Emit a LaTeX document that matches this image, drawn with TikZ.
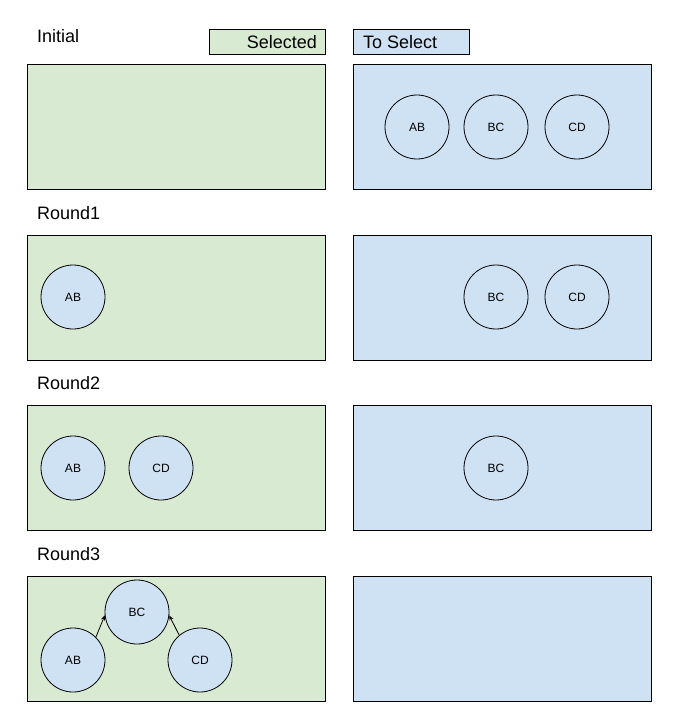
\documentclass[tikz,border=0pt]{standalone}
\usepackage{fontspec}
\setmainfont{Liberation Sans}
\usetikzlibrary{arrows.meta}
\definecolor{selgreen}{HTML}{D9EAD3}
\definecolor{tsblue}{HTML}{CFE2F3}
\begin{document}
\begin{tikzpicture}[x=1pt,y=-1pt,
  panel/.style={draw=black, line width=0.8pt, minimum width=298pt, minimum height=125pt, inner sep=0pt},
  selpanel/.style={panel, fill=selgreen},
  topanel/.style={panel, fill=tsblue},
  ball/.style={circle, draw=black, line width=0.8pt, fill=tsblue, minimum size=64pt, inner sep=0pt, font=\fontsize{12}{14}\selectfont},
  title/.style={anchor=west, inner sep=0pt, font=\fontsize{18}{21}\selectfont},
  legend/.style={draw=black, line width=0.8pt, minimum width=116pt, minimum height=25pt, inner sep=0pt},
  link/.style={-{Stealth[length=5pt,width=4pt]}, line width=0.8pt}
]
\useasboundingbox (0,0) rectangle (681,714);

% legend
\node[legend, fill=selgreen] (legS) at (267,41.5) {};
\node[anchor=east, inner sep=0pt, font=\fontsize{18}{21}\selectfont] (legSt) at (317,42) {Selected};
\node[legend, fill=tsblue] (legT) at (411.5,41.5) {};
\node[anchor=west, inner sep=0pt, font=\fontsize{18}{21}\selectfont] (legTt) at (363,42) {To Select};

% titles
\node[title] (t0) at (37,36) {Initial};
\node[title] (t1) at (37,213) {Round1};
\node[title] (t2) at (37,383) {Round2};
\node[title] (t3) at (37,554) {Round3};

% panels
\node[selpanel] (s0) at (176,126.5) {};
\node[topanel]  (r0) at (502.5,126.5) {};
\node[selpanel] (s1) at (176,297.5) {};
\node[topanel]  (r1) at (502.5,297.5) {};
\node[selpanel] (s2) at (176,467.5) {};
\node[topanel]  (r2) at (502.5,467.5) {};
\node[selpanel] (s3) at (176,638.5) {};
\node[topanel]  (r3) at (502.5,638.5) {};

% Initial
\node[ball] (ab0) at (417,127) {AB};
\node[ball] (bc0) at (496,127) {BC};
\node[ball] (cd0) at (577,127) {CD};

% Round1
\node[ball] (ab1) at (73,297) {AB};
\node[ball] (bc1) at (496,297) {BC};
\node[ball] (cd1) at (577,297) {CD};

% Round2
\node[ball] (ab2) at (73,468) {AB};
\node[ball] (cd2) at (161,468) {CD};
\node[ball] (bc2) at (496,468) {BC};

% Round3
\node[ball] (bc3) at (137,612) {BC};
\node[ball] (ab3) at (73,660) {AB};
\node[ball] (cd3) at (200,660) {CD};
\draw[link] (ab3.45) -- (bc3.186);
\draw[link] (cd3.130) -- (bc3.-6);
\end{tikzpicture}
\end{document}
